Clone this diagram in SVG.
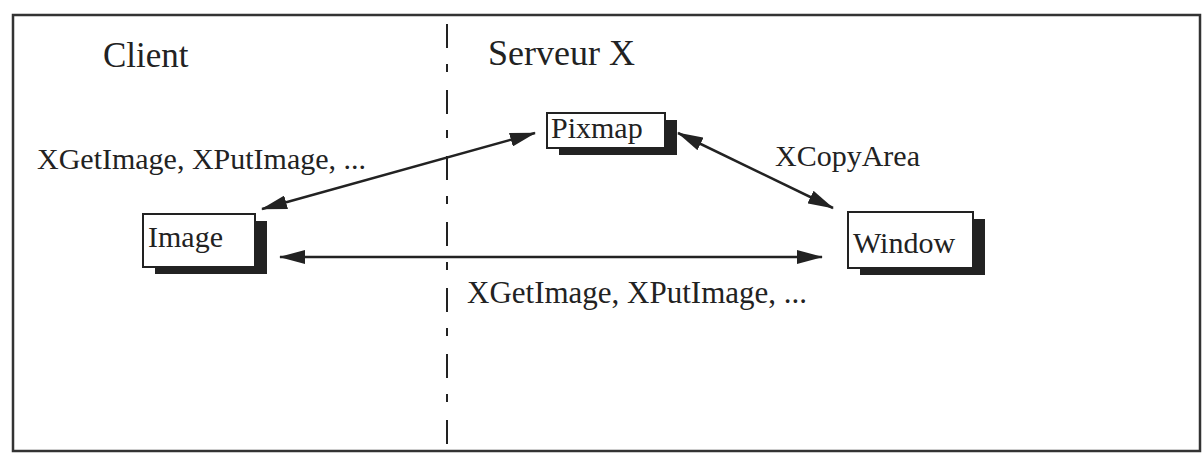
<svg xmlns="http://www.w3.org/2000/svg" width="1202" height="454" viewBox="0 0 1202 454">
<style>
.t{font-family:"Liberation Serif","Times New Roman",serif;fill:#222}
.box{fill:#fff;stroke:#222;stroke-width:2}
.sh{fill:#222}
.con{stroke:#222;stroke-width:2.5;fill:none}
</style>
<defs>
<marker id="ah" viewBox="0 0 26 14" refX="25" refY="7" markerWidth="26" markerHeight="14" markerUnits="userSpaceOnUse" orient="auto-start-reverse">
<path d="M0,0 L26,7 L0,14 z" fill="#222"/>
</marker>
</defs>
<rect x="0" y="0" width="1202" height="454" fill="#fff"/>
<rect x="13" y="15" width="1187" height="436" fill="none" stroke="#333" stroke-width="2.5"/>
<line x1="447" y1="24" x2="447" y2="451" stroke="#222" stroke-width="2" stroke-dasharray="24 16 8 18"/>
<text class="t" x="103" y="67" font-size="35">Client</text>
<text class="t" x="488" y="65" font-size="36">Serveur X</text>
<g id="connectors">
<line class="con" x1="262" y1="209" x2="535" y2="133" marker-start="url(#ah)" marker-end="url(#ah)"/>
<line class="con" x1="678" y1="133" x2="833" y2="208" marker-start="url(#ah)" marker-end="url(#ah)"/>
<line class="con" x1="280" y1="257" x2="822" y2="257" marker-start="url(#ah)" marker-end="url(#ah)"/>
<text class="t" x="37" y="169" font-size="30">XGetImage, XPutImage, ...</text>
<text class="t" x="775" y="166" font-size="30">XCopyArea</text>
<text class="t" x="467" y="303" font-size="31">XGetImage, XPutImage, ...</text>
</g>
<g id="pixmap">
<rect class="sh" x="559" y="120" width="118" height="35"/>
<rect class="box" x="547" y="113" width="118" height="35"/>
<text class="t" x="551" y="138" font-size="30">Pixmap</text>
</g>
<g id="image">
<rect class="sh" x="155" y="221" width="112" height="53"/>
<rect class="box" x="143" y="214" width="112" height="53"/>
<text class="t" x="148" y="247" font-size="30">Image</text>
</g>
<g id="window">
<rect class="sh" x="860" y="219" width="125" height="56"/>
<rect class="box" x="848" y="212" width="125" height="56"/>
<text class="t" x="853" y="253" font-size="30">Window</text>
</g>
</svg>
